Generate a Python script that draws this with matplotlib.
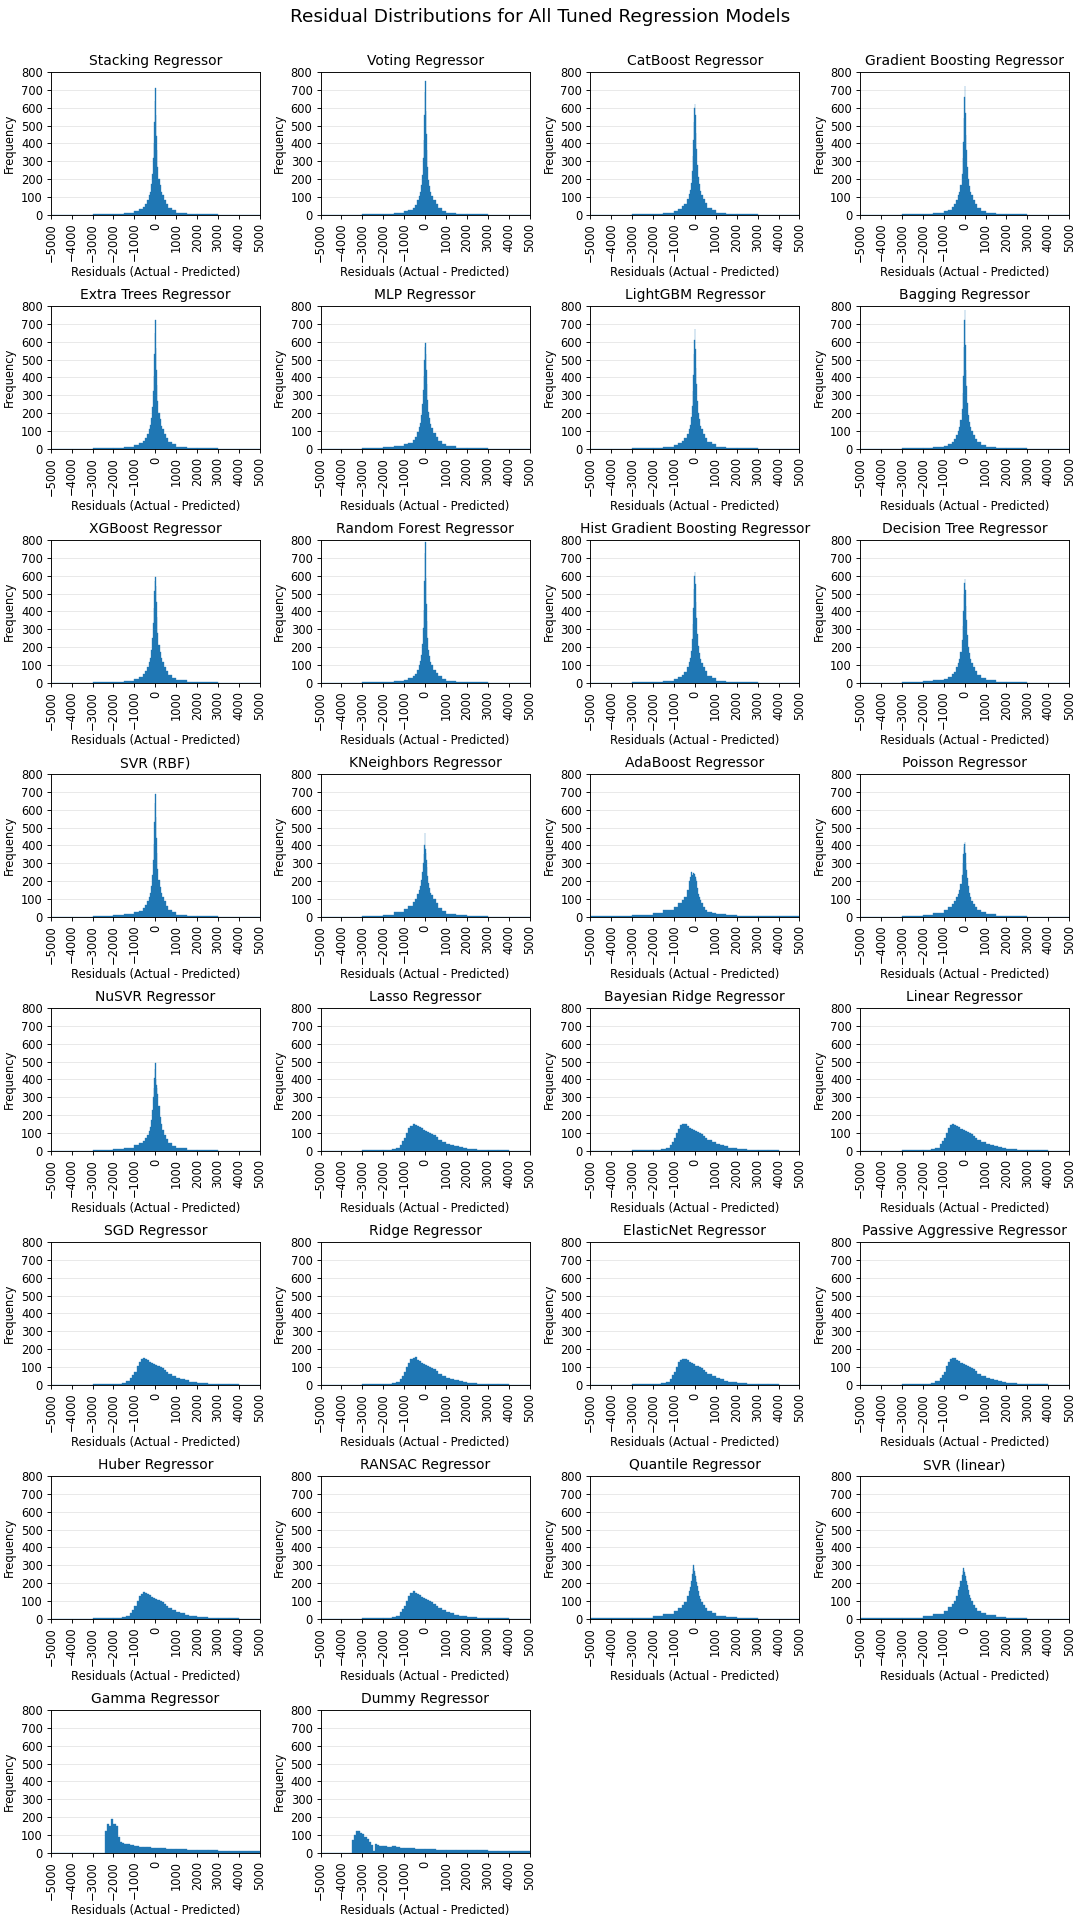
import matplotlib.pyplot as plt

# bin edges (residual units) used for the different families of histograms
spike_edges = [-5000, -3000, -2000, -1500, -1000, -800, -600, -500, -400, -300,
               -250, -200, -150, -100, -75, -50, -25, 0, 25, 50, 75, 100, 150,
               200, 250, 300, 400, 500, 600, 800, 1000, 1500, 2000, 3000, 5000]
linear_edges = [-5000, -3000, -2000, -1600, -1400, -1200, -1100, -1000, -900,
                -800, -700, -600, -500, -400, -300, -200, -100, 0, 100, 200,
                300, 400, 500, 600, 800, 1000, 1200, 1400, 1600, 1800, 2000,
                2500, 3000, 3500, 4000, 5000]
gamma_edges = [-5000, -2400, -2300, -2200, -2100, -2000, -1900, -1800, -1700,
               -1600, -1500, -1400, -1200, -1000, -800, -600, -400, -200, 0,
               250, 500, 750, 1000, 1500, 2000, 2500, 3000, 3500, 4000, 4500, 5000]
dummy_edges = [-5000, -3500, -3400, -3300, -3200, -3100, -3000, -2900, -2800,
               -2700, -2600, -2500, -2400, -2300, -2200, -2000, -1800, -1600,
               -1400, -1200, -1000, -500, 0, 500, 1000, 1500, 2000, 2500, 3000,
               3500, 4000, 4500, 5000]

# frequencies
stacking = [1, 3, 6, 12, 20, 30, 45, 60, 85, 110, 130, 170, 230, 320, 400, 520, 640, 710, 560, 440, 360, 270, 200, 165, 130, 110, 85, 62, 40, 24, 12, 6, 3, 1]
voting = [1, 3, 5, 10, 18, 27, 40, 55, 80, 105, 125, 165, 225, 320, 420, 560, 690, 750, 580, 450, 360, 265, 195, 160, 125, 105, 80, 58, 38, 22, 11, 5, 3, 1]
catboost = [1, 3, 6, 12, 21, 31, 46, 62, 88, 115, 138, 180, 245, 330, 420, 520, 600, 620, 560, 460, 370, 280, 210, 170, 135, 112, 86, 63, 40, 24, 12, 6, 3, 1]
grad_boost = [1, 3, 6, 11, 19, 29, 44, 58, 82, 108, 128, 168, 228, 320, 410, 540, 660, 720, 570, 445, 360, 268, 198, 162, 128, 108, 83, 60, 39, 23, 11, 5, 3, 1]
extra_trees = [1, 3, 6, 12, 20, 30, 45, 60, 84, 110, 132, 172, 235, 325, 410, 530, 650, 720, 565, 440, 355, 268, 200, 165, 130, 110, 84, 62, 40, 24, 12, 6, 3, 1]
mlp = [1, 4, 8, 14, 24, 34, 50, 66, 92, 120, 145, 188, 250, 330, 410, 500, 570, 590, 530, 440, 360, 275, 208, 170, 138, 115, 88, 64, 42, 25, 13, 6, 3, 1]
lightgbm = [1, 3, 6, 12, 20, 30, 45, 60, 85, 112, 134, 175, 238, 325, 415, 530, 610, 670, 560, 450, 360, 270, 200, 165, 130, 110, 84, 62, 40, 24, 12, 6, 3, 1]
bagging = [1, 3, 5, 10, 17, 26, 38, 52, 76, 100, 122, 160, 220, 310, 410, 570, 720, 780, 580, 440, 350, 255, 188, 152, 120, 100, 76, 56, 36, 21, 10, 5, 2, 1]
xgboost = [1, 3, 6, 12, 21, 32, 47, 63, 90, 118, 140, 182, 248, 335, 420, 515, 570, 590, 540, 455, 370, 280, 212, 172, 138, 114, 88, 64, 41, 25, 13, 6, 3, 1]
random_forest = [1, 3, 5, 10, 17, 25, 37, 50, 74, 98, 120, 158, 218, 305, 405, 570, 730, 790, 585, 440, 345, 250, 185, 150, 118, 98, 74, 54, 35, 20, 10, 5, 2, 1]
hist_gb = [1, 3, 6, 12, 21, 31, 46, 62, 88, 115, 138, 180, 245, 330, 420, 525, 600, 620, 555, 455, 365, 275, 205, 168, 134, 112, 86, 63, 40, 24, 12, 6, 3, 1]
decision_tree = [1, 4, 7, 13, 22, 32, 47, 62, 87, 112, 134, 175, 238, 320, 400, 500, 560, 580, 520, 430, 350, 265, 200, 165, 132, 112, 86, 64, 42, 26, 13, 6, 3, 1]
svr_rbf = [1, 4, 8, 15, 24, 34, 48, 64, 88, 112, 132, 172, 232, 320, 410, 530, 640, 690, 560, 440, 355, 270, 205, 168, 135, 112, 86, 63, 40, 24, 12, 6, 3, 1]
kneighbors = [1, 4, 10, 25, 42, 60, 80, 100, 125, 148, 170, 205, 250, 300, 350, 400, 470, 380, 355, 320, 280, 230, 190, 160, 135, 120, 100, 75, 50, 30, 15, 7, 3, 1]
adaboost = [2, 7, 22, 38, 52, 75, 95, 110, 150, 200, 225, 250, 235, 215, 245, 225, 240, 230, 220, 210, 200, 160, 130, 110, 95, 75, 52, 38, 28, 22, 15, 9, 4, 2]
poisson = [1, 4, 10, 22, 40, 55, 72, 90, 110, 130, 150, 185, 235, 300, 350, 390, 410, 420, 360, 300, 260, 215, 170, 135, 110, 90, 70, 55, 40, 25, 13, 6, 3, 1]
nusvr = [1, 4, 9, 18, 30, 42, 55, 70, 90, 110, 135, 175, 230, 300, 350, 410, 460, 490, 400, 370, 350, 320, 250, 190, 150, 115, 90, 68, 45, 27, 14, 7, 3, 1]
quantile = [2, 6, 13, 25, 42, 60, 80, 96, 125, 155, 178, 210, 250, 280, 300, 285, 270, 255, 240, 222, 205, 185, 155, 130, 112, 95, 76, 60, 43, 30, 18, 9, 4, 1]
svr_linear = [2, 6, 14, 26, 45, 65, 85, 100, 130, 160, 180, 210, 245, 270, 285, 275, 265, 250, 240, 225, 210, 190, 160, 135, 118, 100, 80, 62, 45, 32, 20, 10, 4, 1]

lasso = [1, 3, 5, 8, 18, 35, 52, 72, 100, 125, 140, 150, 145, 140, 132, 125, 118, 112, 106, 102, 96, 86, 75, 62, 50, 40, 32, 25, 19, 15, 9, 5, 3, 2, 1]
bayes_ridge = [1, 3, 5, 8, 17, 34, 50, 70, 98, 122, 142, 148, 152, 138, 130, 124, 116, 110, 105, 100, 94, 85, 74, 61, 49, 39, 31, 24, 18, 14, 9, 5, 3, 2, 1]
linear = [1, 3, 5, 8, 18, 36, 52, 72, 102, 128, 145, 150, 146, 140, 131, 123, 116, 111, 104, 99, 95, 85, 74, 62, 50, 40, 32, 25, 19, 15, 9, 5, 3, 2, 1]
sgd = [1, 3, 5, 9, 19, 36, 54, 74, 104, 128, 146, 152, 144, 139, 130, 122, 115, 110, 104, 100, 94, 84, 73, 61, 49, 39, 31, 24, 18, 14, 9, 5, 3, 2, 1]
ridge = [1, 3, 5, 8, 18, 35, 51, 71, 99, 124, 142, 149, 153, 139, 131, 123, 117, 111, 105, 101, 95, 86, 75, 62, 50, 40, 32, 25, 19, 15, 9, 5, 3, 2, 1]
elastic_net = [1, 3, 5, 8, 18, 35, 53, 73, 101, 126, 141, 147, 143, 138, 129, 121, 114, 108, 103, 98, 92, 83, 72, 60, 48, 38, 30, 23, 18, 14, 9, 5, 3, 2, 1]
passive_aggr = [1, 3, 5, 9, 19, 37, 54, 74, 103, 127, 144, 148, 151, 141, 133, 124, 117, 111, 106, 101, 95, 86, 75, 62, 50, 40, 32, 25, 19, 15, 9, 5, 3, 2, 1]
huber = [1, 3, 5, 8, 18, 35, 52, 72, 100, 126, 140, 152, 146, 138, 132, 124, 117, 112, 106, 101, 95, 85, 74, 61, 49, 39, 31, 24, 18, 14, 9, 5, 3, 2, 1]
ransac = [1, 3, 5, 8, 18, 36, 53, 74, 102, 128, 145, 155, 147, 140, 131, 123, 115, 110, 104, 99, 93, 84, 73, 61, 49, 39, 31, 24, 18, 14, 9, 5, 3, 2, 1]

gamma = [0, 120, 160, 150, 190, 160, 150, 90, 60, 55, 52, 48, 42, 38, 35, 32, 30, 28, 27, 25, 23, 21, 20, 17, 15, 13, 11, 10, 9, 8]
dummy = [0, 70, 100, 125, 120, 110, 105, 90, 80, 60, 45, 10, 50, 45, 40, 36, 33, 40, 32, 28, 27, 22, 20, 18, 17, 15, 14, 13, 12, 11, 10, 10]

model_names = [
    "Stacking Regressor", "Voting Regressor", "CatBoost Regressor", "Gradient Boosting Regressor",
    "Extra Trees Regressor", "MLP Regressor", "LightGBM Regressor", "Bagging Regressor",
    "XGBoost Regressor", "Random Forest Regressor", "Hist Gradient Boosting Regressor", "Decision Tree Regressor",
    "SVR (RBF)", "KNeighbors Regressor", "AdaBoost Regressor", "Poisson Regressor",
    "NuSVR Regressor", "Lasso Regressor", "Bayesian Ridge Regressor", "Linear Regressor",
    "SGD Regressor", "Ridge Regressor", "ElasticNet Regressor", "Passive Aggressive Regressor",
    "Huber Regressor", "RANSAC Regressor", "Quantile Regressor", "SVR (linear)",
    "Gamma Regressor", "Dummy Regressor",
]
model_counts = [
    stacking, voting, catboost, grad_boost,
    extra_trees, mlp, lightgbm, bagging,
    xgboost, random_forest, hist_gb, decision_tree,
    svr_rbf, kneighbors, adaboost, poisson,
    nusvr, lasso, bayes_ridge, linear,
    sgd, ridge, elastic_net, passive_aggr,
    huber, ransac, quantile, svr_linear,
    gamma, dummy,
]
# stacking..nusvr, lasso..ransac, quantile + svr linear, gamma, dummy
model_edges = ([spike_edges] * 17 + [linear_edges] * 9 + [spike_edges] * 2
               + [gamma_edges, dummy_edges])

DPI = 83


def main():
    fig, axes = plt.subplots(8, 4, figsize=(1080 / DPI, 1920 / DPI))
    fig.subplots_adjust(left=0.047, right=0.99, top=0.9625, bottom=0.035,
                        wspace=0.29, hspace=0.64)
    fig.suptitle("Residual Distributions for All Tuned Regression Models",
                 fontsize=16, y=0.991, va="center")

    axes = axes.flatten()
    for i, ax in enumerate(axes):
        if i >= len(model_names):
            ax.axis("off")
            continue
        edges = model_edges[i]
        ax.hist(edges[:-1], bins=edges, weights=model_counts[i],
                color="#1f77b4", edgecolor="#1f77b4", linewidth=0.3)
        ax.set_title(model_names[i])
        ax.set_xlabel("Residuals (Actual - Predicted)")
        ax.set_ylabel("Frequency")
        ax.set_xlim(-5000, 5000)
        ax.set_ylim(0, 800)
        ax.set_xticks(range(-5000, 5001, 1000))
        ax.set_yticks(range(0, 801, 100))
        ax.tick_params(axis="x", labelrotation=90)
        ax.grid(axis="y", alpha=0.3)
        ax.set_axisbelow(True)

    plt.savefig("out.png", dpi=DPI)


if __name__ == "__main__":
    main()
